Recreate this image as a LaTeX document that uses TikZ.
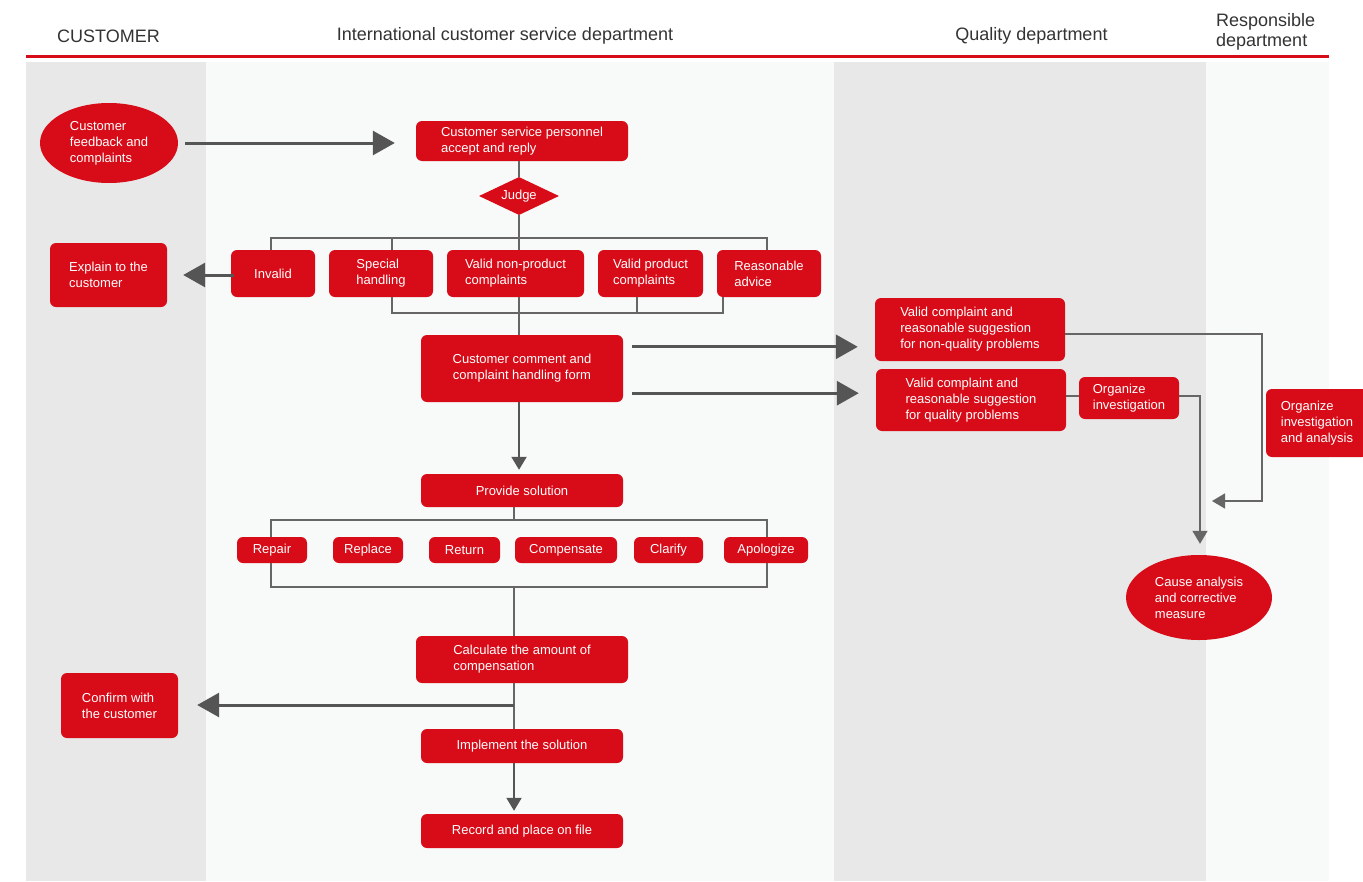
\documentclass[tikz,border=0pt]{standalone}
\usepackage{fontspec}
\setmainfont{Liberation Sans}
\usetikzlibrary{shapes.geometric,arrows.meta}
\definecolor{cred}{HTML}{D80B18}
\definecolor{lanegray}{HTML}{E8E8E8}
\definecolor{lanelight}{HTML}{F8F9F9}
\definecolor{lgray}{HTML}{666666}
\definecolor{agray}{HTML}{555555}
\definecolor{htext}{HTML}{333333}
\begin{document}
\begin{tikzpicture}[x=1pt,y=-1pt,
  box/.style={fill=cred,text=white,rounded corners=6pt,inner sep=0pt,align=left,
    font=\fontsize{13}{16}\selectfont},
  oval/.style={ellipse,fill=cred,text=white,inner sep=0pt,align=left,
    font=\fontsize{13}{16}\selectfont},
  dia/.style={diamond,fill=cred,text=white,inner sep=0pt,aspect=2,
    font=\fontsize{13}{16}\selectfont},
  head/.style={text=htext,font=\fontsize{18}{20}\selectfont,inner sep=0pt,align=left},
  conn/.style={draw=lgray,line width=1.5pt},
  bigarrow/.style={draw=agray,line width=3pt,-{Triangle[length=22pt,width=24pt]}},
  smallarrow/.style={draw=agray,line width=2pt,-{Triangle[length=13pt,width=15pt]}}
]
\useasboundingbox (0,0) rectangle (1363,881);
\clip (0,0) rectangle (1363,881);
% lanes
\fill[lanegray] (26,62) rectangle (206,881);
\fill[lanelight] (206,62) rectangle (834,881);
\fill[lanegray] (834,62) rectangle (1206,881);
\fill[lanelight] (1206,62) rectangle (1329,881);
\fill[cred] (26,54.5) rectangle (1329,57.5);
% headers
\node[head] (h1) at (108.5,36) {CUSTOMER};
\node[head] (h2) at (505,36) {International customer service department};
\node[head] (h3) at (1031.5,36) {Quality department};
\node[head,anchor=west] (h4) at (1216,31.5) {Responsible\\department};

% nodes
\node[oval,minimum width=138pt,minimum height=80pt] (fb) at (109,143) {Customer\\feedback and\\complaints};
\node[box,minimum width=212pt,minimum height=40pt] (csp) at (522,141) {Customer service personnel\\accept and reply};
\node[dia,minimum width=80pt,minimum height=38pt] (judge) at (519,196) {Judge};

\node[box,minimum width=84pt,minimum height=47pt] (inv) at (273,273.5) {Invalid};
\node[box,minimum width=104pt,minimum height=47pt] (spec) at (381,273.5) {Special\\handling};
\node[box,minimum width=137pt,minimum height=47pt] (vnp) at (515.5,273.5) {Valid non-product\\complaints};
\node[box,minimum width=105pt,minimum height=47pt] (vp) at (650.5,273.5) {Valid product\\complaints};
\node[box,minimum width=104pt,minimum height=47pt] (ra) at (769,273.5) {Reasonable\\advice};
\node[box,minimum width=117pt,minimum height=64pt] (explain) at (108.5,275) {Explain to the\\customer};

\node[box,align=center,minimum width=202pt,minimum height=67pt] (form) at (522,368.5) {Customer comment and\\complaint handling form};
\node[box,minimum width=190pt,minimum height=63pt] (nq) at (970,329.5) {Valid complaint and\\reasonable suggestion\\for non-quality problems};
\node[box,minimum width=190pt,minimum height=62pt] (q) at (971,400) {Valid complaint and\\reasonable suggestion\\for quality problems};
\node[box,minimum width=100pt,minimum height=42pt] (oi) at (1129,398) {Organize\\investigation};
\node[box,minimum width=102pt,minimum height=68pt] (oia) at (1317,423) {Organize\\investigation\\and analysis};
\node[oval,minimum width=146pt,minimum height=85pt] (cause) at (1199,597.5) {Cause analysis\\and corrective\\measure};

\node[box,minimum width=202pt,minimum height=33pt] (ps) at (522,490.5) {Provide solution};
\node[box,minimum width=70pt,minimum height=26pt] (repair) at (272,550) {Repair};
\node[box,minimum width=70pt,minimum height=26pt] (replace) at (368,550) {Replace};
\node[box,minimum width=71pt,minimum height=26pt] (return) at (464.5,550) {Return};
\node[box,minimum width=102pt,minimum height=26pt] (comp) at (566,550) {Compensate};
\node[box,minimum width=69pt,minimum height=26pt] (clarify) at (668.5,550) {Clarify};
\node[box,minimum width=84pt,minimum height=26pt] (apol) at (766,550) {Apologize};

\node[box,minimum width=212pt,minimum height=47pt] (calc) at (522,659.5) {Calculate the amount of\\compensation};
\node[box,minimum width=117pt,minimum height=65pt] (confirm) at (119.5,705.5) {Confirm with\\the customer};
\node[box,minimum width=202pt,minimum height=34pt] (impl) at (522,746) {Implement the solution};
\node[box,minimum width=202pt,minimum height=34pt] (rec) at (522,831) {Record and place on file};

% helper coordinates
\coordinate (tb) at (519,238);
\coordinate (bb) at (519,313);
\coordinate (sb) at (514,520);
\coordinate (sb2) at (514,587);
\coordinate (cb) at (514,705);
\coordinate (bend) at (1262,501);
\coordinate (nqend) at (1212,501);

% connectors
\draw[bigarrow,shorten <=7pt,shorten >=21pt] (fb.east) -- (fb.east -| csp.west);
\draw[conn] (csp.south -| judge) -- (judge.north);
\draw[conn] (judge.south) -- (vnp.north -| tb);
\draw[conn] ([xshift=-2pt]inv.north) |- (tb) -| ([xshift=-2pt]ra.north);
\draw[conn] ([xshift=11pt]spec.north) -- ([xshift=11pt]spec.north |- tb);
\draw[conn] ([xshift=11pt]spec.south) |- (bb) -| ([xshift=-46pt]ra.south);
\draw[conn] ([xshift=-13.5pt]vp.south) -- ([xshift=-13.5pt]vp.south |- bb);
\draw[conn] (vnp.south -| tb) -- (form.north -| tb);
\draw[bigarrow,shorten <=-3pt,shorten >=16pt] ([yshift=-1.5pt]inv.west) -- ([yshift=-1.5pt]inv.west -| explain.east);

\draw[bigarrow,shorten <=9pt,shorten >=17pt] ([yshift=-12pt]form.north east) -- ([yshift=-12pt]form.north east -| nq.west);
\draw[bigarrow,shorten <=9pt,shorten >=17pt] ([yshift=9pt]form.south east) -- ([yshift=9pt]form.south east -| q.west);
\draw[conn] ([yshift=2pt]oi.west -| q.east) -- ([yshift=2pt]oi.west);
\draw[conn,-{Triangle[length=13pt,width=15pt]},shorten >=11pt] ([yshift=2pt]oi.east) -| ([xshift=1pt]cause.north);
\draw[conn,-{Triangle[length=13pt,width=15pt]}] ([yshift=-4.5pt]nq.east) -| (bend) -- (nqend);

\draw[smallarrow,shorten >=4pt] (form.south -| tb) -- (ps.north -| tb);
\draw[conn] (ps.south -| sb) -- (sb);
\draw[conn] ([xshift=-1pt]repair.north) |- (sb) -| ([xshift=1pt]apol.north);
\draw[conn] ([xshift=-1pt]repair.south) |- (sb2) -| ([xshift=1pt]apol.south);
\draw[conn] (sb2) -- (calc.north -| sb2);
\draw[conn] (calc.south -| sb2) -- (impl.north -| sb2);
\draw[bigarrow,shorten >=19pt] (cb) -- (cb -| confirm.east);
\draw[smallarrow,shorten >=3pt] (impl.south -| sb2) -- (rec.north -| sb2);
\end{tikzpicture}
\end{document}
